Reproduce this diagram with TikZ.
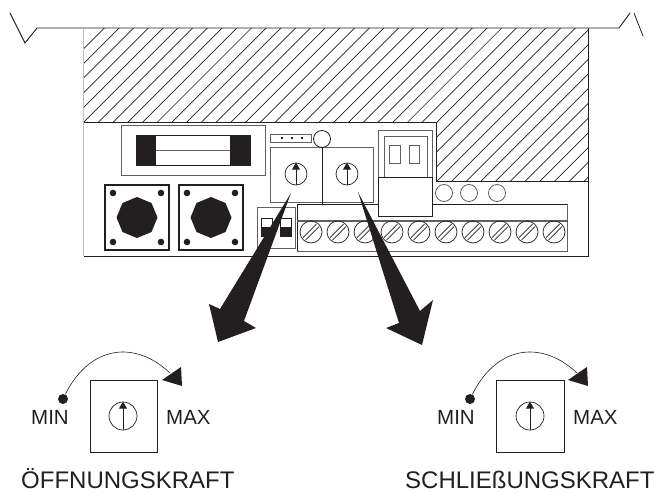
\documentclass[tikz,border=0pt]{standalone}
\usepackage{fontspec}
\setmainfont{Liberation Sans}
\usetikzlibrary{arrows.meta,shapes.geometric}
\definecolor{inkdark}{HTML}{231F20}
\definecolor{inkgrey}{HTML}{606060}
\tikzset{
    dial/.style={draw=inkdark,circle,inner sep=0pt,minimum size=22pt,line width=0.7pt},
    bigdial/.style={draw=inkdark,circle,inner sep=0pt,minimum size=28pt,line width=0.7pt},
    ring/.style={draw=inkgrey,circle,inner sep=0pt,minimum size=17pt,line width=0.8pt},
    pin/.style={fill=inkdark,circle,inner sep=0pt,minimum size=10pt},
    knob/.style={fill=inkdark,regular polygon,regular polygon sides=8,shape border rotate=22.5,inner sep=0pt,minimum size=41pt},
    screw/.style={draw=inkdark,circle,inner sep=0pt,minimum size=22pt,line width=0.7pt,path picture={
        \draw[inkdark,line width=0.7pt] ([xshift=-8pt,yshift=-5.5pt]path picture bounding box.center) -- ([xshift=5.5pt,yshift=8pt]path picture bounding box.center);
        \draw[inkdark,line width=0.7pt] ([xshift=-5.5pt,yshift=-8pt]path picture bounding box.center) -- ([xshift=8pt,yshift=5.5pt]path picture bounding box.center);}},
    dialarrow/.style={inkdark,line width=0.9pt,-{Triangle[length=7pt,width=8pt]}},
    greybox/.style={draw=inkgrey,line width=1pt},
    darkbox/.style={draw=inkdark,line width=1pt},
    small/.style={text=inkdark,inner sep=0pt,font=\fontsize{20.5}{21}\selectfont},
    title/.style={text=inkdark,inner sep=0pt,anchor=base west,font=\fontsize{24}{25}\selectfont}
}
\begin{document}
\begin{tikzpicture}[x=1pt,y=-1pt]
    \useasboundingbox (0,0) rectangle (654,493);

    % hatching
    \begin{scope}
        \clip (83,28) -- (588,28) -- (588,181) -- (436,181) -- (436,122) -- (83,122) -- cycle;
        \foreach \k in {0,...,50}
            \draw[inkdark,line width=0.7pt] (132.3+14.72*\k-200,200) -- (132.3+14.72*\k,0);
    \end{scope}

    % housing
    \draw[inkdark,line width=0.9pt] (10,13) -- (25,43) -- (37,28) -- (619,28) -- (630,13);
    \draw[inkdark,line width=0.8pt] (634,13) -- (643,36);
    \draw[lightgray,line width=0.9pt] (83,28) -- (83,256);
    \draw[inkdark,line width=1pt] (84,122) -- (436,122) -- (436,181) -- (588,181);
    \draw[inkdark,line width=1pt] (588,28) -- (588,256) -- (84,256);

    % fuse
    \draw[greybox] (121,125) rectangle (265,175);
    \draw[darkbox] (136,135) rectangle (250,165);
    \fill[inkdark] (136,135) rectangle (156,165);
    \fill[inkdark] (230,135) rectangle (250,165);
    \draw[inkgrey,line width=1pt] (156,150) -- (230,150);

    % buttons
    \draw[inkdark,line width=2.5pt] (105,185) rectangle (169,250);
    \draw[inkdark,line width=2.5pt] (179,185) rectangle (243,250);
    \node[knob] (knobA) at (137,217.5) {};
    \node[knob] (knobB) at (211,217.5) {};
    \fill[inkdark] (113,193) circle (3.3);
    \fill[inkdark] (161,193) circle (3.3);
    \fill[inkdark] (113,242) circle (3.3);
    \fill[inkdark] (161,242) circle (3.3);
    \fill[inkdark] (187,193) circle (3.3);
    \fill[inkdark] (235,193) circle (3.3);
    \fill[inkdark] (187,242) circle (3.3);
    \fill[inkdark] (235,242) circle (3.3);

    % header and pots
    \draw[greybox] (270,134) rectangle (311,142);
    \fill[inkdark] (282,138) circle (1.3);
    \fill[inkdark] (292,138) circle (1.3);
    \fill[inkdark] (302,138) circle (1.3);
    \draw[greybox] (270,147) rectangle (373,202);
    \draw[darkbox] (322,147) -- (322,204);
    \node[ring,draw=inkdark] (led) at (322,139) {};
    \node[dial] (dialA) at (296,174) {};
    \node[dial] (dialB) at (347,174) {};
    \draw[dialarrow] (dialA.south) -- (dialA.north);
    \draw[dialarrow] (dialB.south) -- (dialB.north);

    % dip switch
    \draw[greybox] (257,207) rectangle (295,248);
    \draw[darkbox] (261,218) rectangle (272,236);
    \draw[darkbox] (280,218) rectangle (291,236);
    \fill[inkdark] (261,227) rectangle (272,236);
    \fill[inkdark] (280,227) rectangle (291,236);

    % terminal block
    \draw[darkbox] (297,251) -- (297,204) -- (567,204);
    \draw[greybox] (567,204) -- (567,251) -- (297,251);
    \draw[inkgrey,line width=1.3pt] (297,221) -- (567,221);
    \node[screw] (screwA) at (311,232) {};
    \node[screw] (screwB) at (338,232) {};
    \node[screw] (screwC) at (365,232) {};
    \node[screw] (screwD) at (392,232) {};
    \node[screw] (screwE) at (419,232) {};
    \node[screw] (screwF) at (446,232) {};
    \node[screw] (screwG) at (473,232) {};
    \node[screw] (screwH) at (500,232) {};
    \node[screw] (screwI) at (527,232) {};
    \node[screw] (screwJ) at (554,232) {};

    % jumper
    \draw[greybox,fill=white] (378,130) rectangle (432,177);
    \draw[greybox] (384,136) rectangle (427,177);
    \draw[greybox] (389,145) rectangle (400,163);
    \draw[greybox] (409,145) rectangle (419,163);
    \draw[darkbox,fill=white] (378,177) rectangle (432,216);
    \node[ring] (ringA) at (444,193) {};
    \node[ring] (ringB) at (469,193) {};
    \node[ring] (ringC) at (497,193) {};

    % big arrows
    \fill[inkdark] (291,193) -- (244,321) -- (256,328) -- (218,342) -- (209,304) -- (220,309) -- cycle;
    \fill[inkdark] (358,192) -- (420,311) -- (433,300) -- (422,345) -- (386,328) -- (399,323) -- cycle;

    % left dial
    \draw[inkdark,line width=0.8pt] (90,380) rectangle (157,452);
    \node[bigdial] (dialC) at (123,416) {};
    \draw[dialarrow] (dialC.south) -- (dialC.north);
    \node[pin] (pinA) at (63,399) {};
    \coordinate (tipA) at (170,373);
    \draw[inkdark,line width=0.6pt] (pinA) .. controls (90,345) and (135,340) .. (tipA);
    \fill[inkdark] (181,367) -- (162,380) -- (182,386) -- cycle;
    \node[small,anchor=west] (minA) at (31,417) {MIN};
    \node[small,anchor=west] (maxA) at (166,417) {MAX};
    \node[title] (forceA) at (21,488) {ÖFFNUNGSKRAFT};

    % right dial
    \draw[inkdark,line width=0.8pt] (496,380) rectangle (564,452);
    \node[bigdial] (dialD) at (530,416) {};
    \draw[dialarrow] (dialD.south) -- (dialD.north);
    \node[pin] (pinB) at (470,399) {};
    \coordinate (tipB) at (577,373);
    \draw[inkdark,line width=0.6pt] (pinB) .. controls (497,345) and (542,340) .. (tipB);
    \fill[inkdark] (587,367) -- (568,380) -- (588,386) -- cycle;
    \node[small,anchor=west] (minB) at (437,417) {MIN};
    \node[small,anchor=west] (maxB) at (573,417) {MAX};
    \node[title] (forceB) at (405,488) {SCHLIEßUNGSKRAFT};
\end{tikzpicture}
\end{document}
